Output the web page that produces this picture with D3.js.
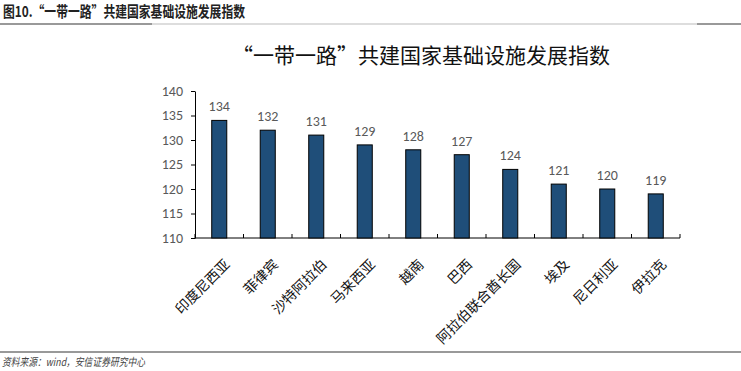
<!DOCTYPE html>
<html>
<head>
<meta charset="utf-8">
<script src="https://cdn.jsdelivr.net/npm/d3@7"></script>
<style>
  body { margin: 0; background: #fff; }
  svg { display: block; font-family: "Noto Sans CJK SC", "Noto Sans", sans-serif; }
</style>
</head>
<body>
<div id="chart"></div>
<script>
// data
var countries = ["印度尼西亚", "菲律宾", "沙特阿拉伯", "马来西亚", "越南", "巴西", "阿拉伯联合酋长国", "埃及", "尼日利亚", "伊拉克"];
var indexValues = [134, 132, 131, 129, 128, 127, 124, 121, 120, 119];
var yTicks = [110, 115, 120, 125, 130, 135, 140];

var width = 741, height = 371;
var plot = { left: 195, right: 680, top: 91, bottom: 238 };
var numFont = "Calibri, Carlito, 'Liberation Sans', sans-serif";

var svg = d3.select("#chart").append("svg")
  .attr("width", width)
  .attr("height", height);

// report header (condensed like the source pdf)
svg.append("text")
  .attr("x", 3).attr("y", 17)
  .attr("font-size", 15).attr("font-weight", "bold").attr("fill", "#222")
  .attr("textLength", 242).attr("lengthAdjust", "spacingAndGlyphs")
  .text("图10.“一带一路”共建国家基础设施发展指数");

svg.append("line").attr("x1", 0).attr("x2", 741).attr("y1", 24).attr("y2", 24)
  .attr("stroke", "#bbb").attr("stroke-width", 1);
svg.append("line").attr("x1", 0).attr("x2", 152).attr("y1", 24).attr("y2", 24)
  .attr("stroke", "#999").attr("stroke-width", 2);
svg.append("line").attr("x1", 697).attr("x2", 741).attr("y1", 24).attr("y2", 24)
  .attr("stroke", "#999").attr("stroke-width", 2);

// chart title
svg.append("text")
  .attr("x", 421).attr("y", 63)
  .attr("text-anchor", "middle")
  .attr("font-size", 21).attr("fill", "#111")
  .text("“一带一路”共建国家基础设施发展指数");

var x = d3.scaleBand()
  .domain(countries)
  .range([plot.left, plot.right])
  .paddingInner(0.69).paddingOuter(0.345);

var y = d3.scaleLinear()
  .domain([110, 140])
  .range([plot.bottom, plot.top]);

// y axis
var yAxis = svg.append("g")
  .attr("transform", "translate(" + plot.left + ",0)")
  .call(d3.axisLeft(y).tickValues(yTicks).tickSize(4).tickSizeOuter(0).tickPadding(8));
yAxis.select(".domain").attr("stroke", "#000");
yAxis.selectAll(".tick line").attr("stroke", "#000");
yAxis.selectAll(".tick text").attr("font-size", 14).attr("fill", "#595959")
  .attr("font-family", numFont);

// x axis: ticks sit between categories
var xAxis = svg.append("g")
  .attr("transform", "translate(0," + plot.bottom + ")");
xAxis.append("line")
  .attr("x1", plot.left).attr("x2", plot.right)
  .attr("stroke", "#000");
var step = x.step();
xAxis.selectAll(".xtick")
  .data(d3.range(countries.length + 1))
  .enter().append("line")
  .attr("x1", function(i) { return plot.left + i * step; })
  .attr("x2", function(i) { return plot.left + i * step; })
  .attr("y1", 0).attr("y2", -4)
  .attr("stroke", "#000");

xAxis.selectAll(".xlabel")
  .data(countries)
  .enter().append("text")
  .attr("transform", function(d) {
    return "translate(" + (x(d) + x.bandwidth() / 2 + 8) + ",24) rotate(-45)";
  })
  .attr("text-anchor", "end")
  .attr("dy", "0.35em")
  .attr("font-size", 14).attr("fill", "#111")
  .text(function(d) { return d; });

// bars
svg.selectAll(".bar")
  .data(indexValues)
  .enter().append("rect")
  .attr("x", function(d, i) { return x(countries[i]); })
  .attr("y", function(d) { return y(d); })
  .attr("width", x.bandwidth())
  .attr("height", function(d) { return plot.bottom - y(d); })
  .attr("fill", "#1f4e79")
  .attr("stroke", "#000").attr("stroke-width", 1);

svg.selectAll(".val")
  .data(indexValues)
  .enter().append("text")
  .attr("x", function(d, i) { return x(countries[i]) + x.bandwidth() / 2; })
  .attr("y", function(d) { return y(d) - 9; })
  .attr("text-anchor", "middle")
  .attr("font-size", 14).attr("fill", "#595959")
  .attr("font-family", numFont)
  .text(function(d) { return d; });

// footer
svg.append("line").attr("x1", 0).attr("x2", 741).attr("y1", 352).attr("y2", 352)
  .attr("stroke", "#777").attr("stroke-width", 1.5);
svg.append("text")
  .attr("x", 2).attr("y", 366)
  .attr("font-size", 11).attr("font-style", "italic").attr("fill", "#444")
  .attr("textLength", 143).attr("lengthAdjust", "spacingAndGlyphs")
  .text("资料来源：wind，安信证券研究中心");
</script>
</body>
</html>
